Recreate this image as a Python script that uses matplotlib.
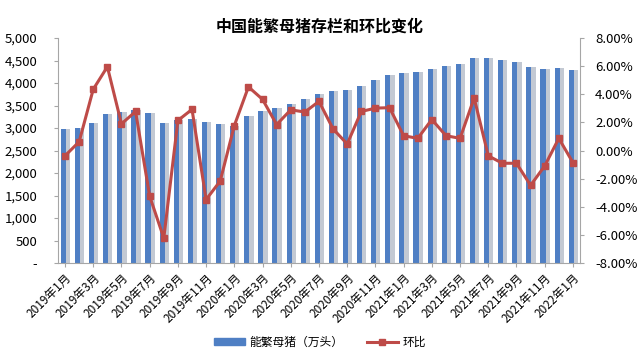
import matplotlib
matplotlib.use("Agg")
import matplotlib.pyplot as plt
from matplotlib.lines import Line2D
from matplotlib.patches import Patch
from matplotlib.ticker import FuncFormatter, MultipleLocator
import numpy as np

plt.rcParams["font.family"] = ["Noto Sans CJK SC", "DejaVu Sans"]

# 2019年1月 - 2022年1月, 月度
months = [f"{y}年{m}月" for y in (2019, 2020, 2021, 2022) for m in range(1, 13)][:37]

# 能繁母猪存栏 (万头), 读图估计
sows = [2969, 3010, 3103, 3304, 3355, 3400, 3326, 3118, 3185, 3207, 3132, 3090,
        3050, 3275, 3390, 3453, 3540, 3638, 3750, 3826, 3839, 3936, 4063, 4170,
        4219, 4256, 4323, 4382, 4420, 4568, 4554, 4509, 4472, 4360, 4308, 4345,
        4293]

# 环比 (%)
mom = [-0.37, 0.63, 4.36, 5.96, 1.90, 2.78, -3.24, -6.22, 2.14, 2.93, -3.48, -2.16,
       1.78, 4.53, 3.64, 1.85, 2.90, 2.74, 3.50, 1.54, 0.47, 2.78, 3.02, 3.05,
       1.06, 0.87, 2.21, 1.06, 0.87, 3.74, -0.37, -0.90, -0.90, -2.47, -1.09, 0.87,
       -0.85]

BAR = "#4F7FC4"
SHADE = "#C3C9D3"
LINE = "#BE4B48"

fig = plt.figure(figsize=(6.4, 3.59), dpi=100)
ax = fig.add_axes([0.0906, 0.267, 0.8156, 0.627])
x = np.arange(len(months))

# 柱子: 浅灰阴影 + 蓝色主体 (模仿 Excel 立体柱)
ax.bar(x + 0.18, sows, width=0.36, color=SHADE, zorder=1)
ax.bar(x - 0.12, sows, width=0.36, color=BAR, zorder=2)
ax.set_xlim(-0.5, len(months) - 0.5)
ax.set_ylim(0, 5000)
ax.yaxis.set_major_locator(MultipleLocator(500))
ax.yaxis.set_major_formatter(FuncFormatter(lambda v, p: "-" if v == 0 else f"{v:,.0f}"))
ax.set_xticks(x[::2])
ax.set_xticklabels(months[::2], rotation=45, ha="right", rotation_mode="anchor",
                   fontsize=8.5)
ax.tick_params(axis="y", labelsize=9.5, length=3, color="#A6A6A6", pad=12)
ax.tick_params(axis="x", length=3, color="#A6A6A6", pad=3)
for s in ("top", "right"):
    ax.spines[s].set_visible(False)
for s in ("left", "bottom"):
    ax.spines[s].set_color("#A6A6A6")

ax2 = ax.twinx()
ax2.plot(x, mom, color=LINE, lw=2.2, marker="s", ms=5, mfc=LINE, mec=LINE, zorder=3)
ax2.set_ylim(-8, 8)
ax2.yaxis.set_major_locator(MultipleLocator(2))
ax2.yaxis.set_major_formatter(FuncFormatter(lambda v, p: f"{v:.2f}%"))
ax2.tick_params(axis="y", labelsize=9.5, length=3, color="#A6A6A6", pad=8)
for s in ("top", "left", "bottom"):
    ax2.spines[s].set_visible(False)
ax2.spines["right"].set_color("#A6A6A6")

fig.text(0.5, 0.925, "中国能繁母猪存栏和环比变化", ha="center", va="center",
         fontsize=11.5, fontweight="bold")

handles = [Patch(color=BAR, label="能繁母猪（万头）"),
           Line2D([], [], color=LINE, lw=2.2, marker="s", ms=5, label="环比")]
fig.legend(handles=handles, loc="center", bbox_to_anchor=(0.5, 0.047), ncol=2,
           frameon=False, fontsize=8.5, handlelength=2.6, handleheight=0.5,
           columnspacing=2.0, handletextpad=0.4)

fig.savefig("out.png", dpi=100)
plt.close(fig)
